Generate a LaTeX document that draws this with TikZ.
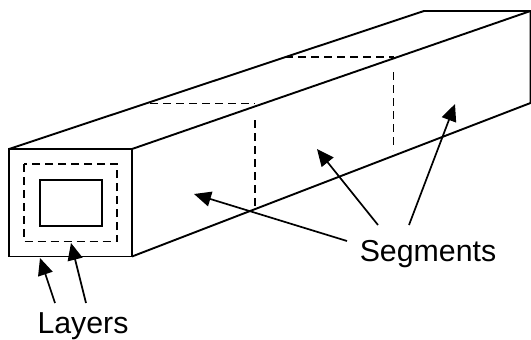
\documentclass[tikz,border=0pt]{standalone}
\usepackage{fontspec}
\setmainfont{Liberation Sans}
\usetikzlibrary{arrows.meta}
\tikzset{
  edge/.style={line width=1.9pt,line join=miter},
  thin edge/.style={line width=1.7pt},
  dash edge/.style={line width=1.6pt,dash pattern=on 8pt off 5pt},
  pointer/.style={line width=1.7pt,-{Triangle[length=17pt,width=15pt]}},
  label/.style={font=\fontsize{30.3}{36}\selectfont,inner sep=0pt,anchor=base}
}
\begin{document}
\begin{tikzpicture}[x=1pt,y=-1pt]
\useasboundingbox (0,0) rectangle (531,340);
\fill[white] (0,0) rectangle (531,340);
% named corners
\coordinate (ftl) at (9,149);
\coordinate (ftr) at (132,149);
\coordinate (fbr) at (132,256.5);
\coordinate (fbl) at (9,256.5);
\coordinate (btl) at (424,11);
\coordinate (btr) at (530.5,11);
\coordinate (bbr) at (530.5,103);
% faces
\draw[edge] (ftl) rectangle (fbr);
\draw[edge] (ftl) -- (btl) -- (btr) -- (bbr) -- (fbr);
\draw[edge] (ftr) -- (btr);
\draw[dash edge] (24,164) rectangle (117,241.5);
\draw[thin edge] (40,180) rectangle (102,226);
% segment marks
\coordinate (s1a) at (150,103.5);
\coordinate (s1b) at (255,103.5);
\coordinate (s1c) at (255,120);
\coordinate (s1d) at (255,210);
\coordinate (s2a) at (285,57);
\coordinate (s2b) at (393.5,57);
\coordinate (s2c) at (393.5,72);
\coordinate (s2d) at (393.5,150);
\draw[dash edge] (s1a) -- (s1b);
\draw[dash edge] (s1c) -- (s1d);
\draw[dash edge] (s2a) -- (s2b);
\draw[dash edge] (s2c) -- (s2d);
% labels
\node[label] (seg) at (428,261.5) {Segments};
\node[label] (lay) at (83,333.5) {Layers};
% pointers
\coordinate (p1) at (347,241);
\coordinate (t1) at (194,194);
\coordinate (p2) at (378,225);
\coordinate (t2) at (317,149);
\coordinate (p3) at (409,225);
\coordinate (t3) at (455,104);
\coordinate (p4) at (55,303);
\coordinate (t4) at (40,258);
\coordinate (p5) at (86,303);
\coordinate (t5) at (71,243);
\draw[pointer] (p1) -- (t1);
\draw[pointer] (p2) -- (t2);
\draw[pointer] (p3) -- (t3);
\draw[pointer] (p4) -- (t4);
\draw[pointer] (p5) -- (t5);
\end{tikzpicture}
\end{document}
